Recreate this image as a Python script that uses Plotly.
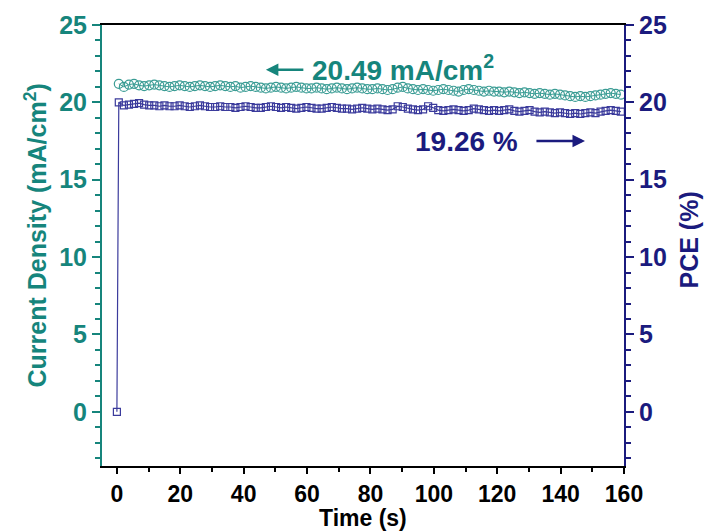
import plotly.graph_objects as go

# time axis (s)
time_pts = [round(0.6 + 1.6 * i, 1) for i in range(100)]

current_density = [
    21.2, 21.0, 21.15, 21.2, 21.1, 21.05, 21.1, 21.15, 21.1, 21.05, 21.0, 21.05, 21.1, 21.05, 21.0, 21.05, 21.1, 21.05, 21.0, 21.05, 21.1, 21.05,
    21.0, 21.05, 20.95, 21.0, 21.05, 21.0, 20.95, 20.9, 20.95, 21.0, 20.95, 20.9, 20.95, 21.0, 20.95, 20.9, 20.9, 20.95, 20.9, 20.85, 20.9, 20.95, 20.9, 20.85, 20.9, 20.95, 20.9, 20.85,
    20.85, 20.9, 20.85, 20.8, 20.85, 20.95, 21.0, 20.9, 20.85, 20.8, 20.85, 20.8, 20.75, 20.8, 20.85, 20.8, 20.75, 20.7, 20.8, 20.85, 20.8, 20.75, 20.7, 20.75, 20.7,
    20.7, 20.65, 20.7, 20.65, 20.6, 20.65, 20.6, 20.55, 20.6, 20.55, 20.5, 20.55, 20.5, 20.45, 20.4, 20.35, 20.4, 20.35, 20.4, 20.45, 20.5, 20.55, 20.6, 20.55, 20.5,
]

pce_time = [0.0] + time_pts
pce = [0.0] + [
    20.0, 19.8, 19.85, 19.9, 19.95, 19.85, 19.8, 19.8, 19.75, 19.8, 19.75, 19.75, 19.8, 19.75, 19.7, 19.75, 19.8, 19.75, 19.7, 19.7, 19.75, 19.7,
    19.7, 19.65, 19.7, 19.75, 19.7, 19.65, 19.65, 19.7, 19.75, 19.7, 19.65, 19.7, 19.65, 19.6, 19.65, 19.7, 19.65, 19.6, 19.6, 19.65, 19.7, 19.65, 19.6, 19.6, 19.55, 19.6, 19.65, 19.6,
    19.55, 19.6, 19.55, 19.5, 19.55, 19.75, 19.7, 19.6, 19.55, 19.5, 19.55, 19.75, 19.65, 19.5, 19.45, 19.5, 19.55, 19.5, 19.45, 19.5, 19.6, 19.55, 19.5, 19.45, 19.5,
    19.45, 19.5, 19.55, 19.45, 19.4, 19.45, 19.5, 19.4, 19.35, 19.4, 19.35, 19.3, 19.35, 19.3, 19.25, 19.3, 19.25, 19.3, 19.35, 19.3, 19.4, 19.45, 19.5, 19.45, 19.4,
]

x_ticks = [0, 20, 40, 60, 80, 100, 120, 140, 160]
y_ticks = [0, 5, 10, 15, 20, 25]

TEAL = "#16857c"
TEAL_M = "#3a9c94"
NAVY = "#1b1b7e"
NAVY_M = "#3b3b9c"
FONT = "Liberation Sans, Arial, sans-serif"

fig = go.Figure()
fig.add_trace(go.Scatter(
    x=time_pts, y=current_density, mode="lines+markers",
    line=dict(color=TEAL_M, width=1),
    marker=dict(symbol="circle-open", size=9, color=TEAL_M, line=dict(width=1.2)),
    yaxis="y", showlegend=False,
))
fig.add_trace(go.Scatter(
    x=pce_time, y=pce, mode="lines+markers",
    line=dict(color=NAVY_M, width=1.2),
    marker=dict(symbol="square-open", size=7, color=NAVY_M, line=dict(width=1.2)),
    yaxis="y2", showlegend=False,
))

yrange = [-3.5, 25]
tick_size = 25
fig.update_layout(
    width=711, height=531,
    margin=dict(l=102, r=87, t=25, b=65),
    paper_bgcolor="white", plot_bgcolor="white",
    font=dict(family=FONT),
    xaxis=dict(
        range=[-4.7, 160], tickmode="array", tickvals=x_ticks, automargin=False,
        ticks="outside", ticklen=6, tickwidth=2, tickcolor="black",
        minor=dict(tickvals=[10, 30, 50, 70, 90, 110, 130, 150], ticks="outside", ticklen=4, tickwidth=2, tickcolor="black"),
        showline=True, linecolor="black", linewidth=2, mirror=True,
        showgrid=False, zeroline=False,
        tickfont=dict(size=23, color="black", family=FONT, weight="bold"),
    ),
    yaxis=dict(
        range=yrange, tickmode="array", tickvals=y_ticks, automargin=False,
        ticks="outside", ticklen=8, tickwidth=2, tickcolor=TEAL,
        minor=dict(dtick=1, tick0=0, ticks="outside", ticklen=5, tickwidth=2, tickcolor=TEAL),
        showline=True, linecolor=TEAL, linewidth=2,
        showgrid=False, zeroline=False,
        tickfont=dict(size=tick_size, color=TEAL, family=FONT, weight="bold"),
    ),
    yaxis2=dict(
        range=yrange, overlaying="y", side="right", tickmode="array", tickvals=y_ticks, automargin=False,
        ticks="outside", ticklen=8, tickwidth=2, tickcolor=NAVY,
        minor=dict(dtick=1, tick0=0, ticks="outside", ticklen=5, tickwidth=2, tickcolor=NAVY),
        showline=True, linecolor=NAVY, linewidth=2,
        showgrid=False, zeroline=False,
        tickfont=dict(size=tick_size, color=NAVY, family=FONT, weight="bold"),
    ),
)

# axis titles
fig.add_annotation(x=0.5, y=0, xref="paper", yref="paper", yshift=-52, xanchor="center", yanchor="middle",
                   text="Time (s)", showarrow=False, font=dict(size=23, color="black", family=FONT, weight="bold"))
fig.add_annotation(x=0, y=0.5, xref="paper", yref="paper", xshift=-67, yshift=10, xanchor="center", yanchor="middle",
                   textangle=-90, text="Current Density (mA/cm<sup>2</sup>)", showarrow=False,
                   font=dict(size=25, color=TEAL, family=FONT, weight="bold"))
fig.add_annotation(x=1, y=0.5, xref="paper", yref="paper", xshift=64, yshift=5, xanchor="center", yanchor="middle",
                   textangle=-90, text="PCE (%)", showarrow=False,
                   font=dict(size=25, color=NAVY, family=FONT, weight="bold"))

# value annotations
fig.add_annotation(x=47.0, y=22.1, ax=59.3, ay=22.1, xref="x", yref="y", axref="x", ayref="y",
                   text="", showarrow=True, arrowhead=2, arrowsize=1, arrowwidth=2.5, arrowcolor=TEAL)
fig.add_annotation(x=61.0, y=22.2, xref="x", yref="y", xanchor="left", yanchor="middle",
                   text="20.49 mA/cm<sup>2</sup>", showarrow=False,
                   font=dict(size=28, color=TEAL, family=FONT, weight="bold"))
fig.add_annotation(x=127.2, y=17.5, xref="x", yref="y", xanchor="right", yanchor="middle",
                   text="19.26 %", showarrow=False,
                   font=dict(size=28, color=NAVY, family=FONT, weight="bold"))
fig.add_annotation(x=147.7, y=17.5, ax=131.9, ay=17.5, xref="x", yref="y", axref="x", ayref="y",
                   text="", showarrow=True, arrowhead=2, arrowsize=1, arrowwidth=2.5, arrowcolor=NAVY)

fig.write_html("out.html")
